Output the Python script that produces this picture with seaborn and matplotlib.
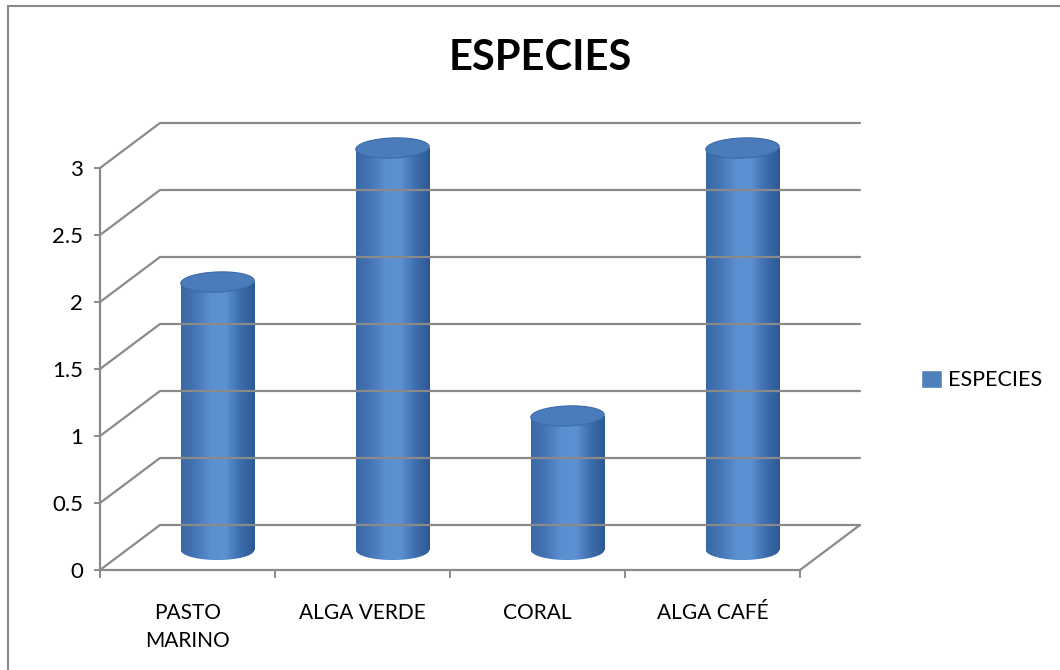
import numpy as np
import matplotlib
matplotlib.use("Agg")
import matplotlib.pyplot as plt
import matplotlib.transforms as mtransforms
from matplotlib.colors import LinearSegmentedColormap
from matplotlib.patches import Ellipse, Rectangle, Patch
from matplotlib.lines import Line2D
import seaborn as sns

# data
categorias = ["PASTO\nMARINO", "ALGA VERDE", "CORAL", "ALGA CAFÉ"]
especies = [2, 3, 1, 3]
serie = "ESPECIES"
yticks = [0, 0.5, 1, 1.5, 2, 2.5, 3]
ytick_labels = ["0", "0.5", "1", "1.5", "2", "2.5", "3"]

sns.set_style("white")
plt.rcParams["font.family"] = ["Lato", "DejaVu Sans"]
plt.rcParams["text.color"] = "black"

grid_col = "#8a8a8a"
fig = plt.figure(figsize=(10.6, 6.7), dpi=100)
ax = fig.add_axes([100 / 1060, 100 / 670, 700 / 1060, 402 / 670])

sns.barplot(x=categorias, y=especies, ax=ax, width=0.42, color="#4F81BD")
ax.set_xlim(-0.5, 3.5)
ax.set_ylim(0, 3)

# depth offsets (back wall and mid-depth for cylinders)
half = mtransforms.ScaledTranslation(0.30, 0.20, fig.dpi_scale_trans)
dx, dy = 60, 45

# perspective grid: diagonals + back wall lines
for v in yticks:
    x0, y0 = ax.transData.transform((-0.5, v))
    x1, y1 = ax.transData.transform((3.5, v))
    fig.add_artist(Line2D([x0, x0 + dx, x1 + dx], [y0, y0 + dy, y1 + dy],
                          transform=None, color=grid_col, lw=1.6, zorder=0.5))
x0, y0 = ax.transData.transform((3.5, 0))
fig.add_artist(Line2D([x0, x0 + dx], [y0, y0 + dy], transform=None,
                      color=grid_col, lw=1.6, zorder=0.5))

# cylinders
cyl = LinearSegmentedColormap.from_list(
    "cyl", ["#3A68A6", "#4676B6", "#5A8FD0", "#5C92D3", "#3F6EAE", "#2C5994"])
grad = np.linspace(0, 1, 200)[None, :]
eh = 0.15
tr = ax.transData + half
for p in list(ax.patches):
    x0 = p.get_x()
    w = p.get_width()
    h = p.get_height()
    cx = x0 + w / 2
    p.set_visible(False)
    body = Rectangle((x0, 0), w, h, transform=tr, facecolor="none",
                     edgecolor="none", clip_on=False)
    ax.add_patch(body)
    im = ax.imshow(grad, extent=(x0, x0 + w, 0, h), aspect="auto", cmap=cyl,
                   transform=tr, zorder=2, interpolation="bilinear")
    im.set_clip_path(body)
    im.set_clip_box(fig.bbox)
    bot = Ellipse((cx, 0), w, eh, transform=tr, facecolor="none",
                  edgecolor="none", clip_on=False)
    ax.add_patch(bot)
    im2 = ax.imshow(grad, extent=(x0, x0 + w, -eh / 2, eh / 2), aspect="auto",
                    cmap=cyl, transform=tr, zorder=2, interpolation="bilinear")
    im2.set_clip_path(bot)
    im2.set_clip_box(fig.bbox)
    top = Ellipse((cx, h), w, eh, angle=3, transform=tr, facecolor="#4A7BBB",
                  edgecolor="#3C6AA6", lw=0.8, zorder=3, clip_on=False)
    ax.add_patch(top)

ax.set_xlim(-0.5, 3.5)
ax.set_ylim(0, 3)

# axes styling
for s in ["top", "right"]:
    ax.spines[s].set_visible(False)
for s in ["left", "bottom"]:
    ax.spines[s].set_color(grid_col)
    ax.spines[s].set_linewidth(1.6)
ax.set_yticks(yticks)
ax.set_yticklabels(ytick_labels)
ax.set_xticks(range(len(categorias)))
ax.set_xticklabels(categorias, linespacing=1.45)
ax.set_xticks([-0.5, 0.5, 1.5, 2.5, 3.5], minor=True)
ax.tick_params(axis="y", length=4, width=1.4, color=grid_col, labelsize=16,
               pad=8, left=True, labelcolor="black")
ax.tick_params(axis="x", which="major", length=0, labelsize=15, pad=24,
               labelcolor="black")
ax.tick_params(axis="x", which="minor", length=6, width=1.4, color=grid_col,
               bottom=True)
ax.set_xlabel("")
ax.set_ylabel("")
ax.grid(False)

# title
fig.text(540 / 1060, 1 - 58 / 670, "ESPECIES", ha="center", va="center",
         fontsize=30, fontweight="bold", color="black")

# legend
leg = fig.legend(handles=[Patch(facecolor="#4F81BD")], labels=[serie],
                 loc="center left", bbox_to_anchor=(902 / 1060, 1 - 380 / 670),
                 frameon=False, handlelength=0.95, handleheight=0.95,
                 handletextpad=0.3, fontsize=15.5)
for t in leg.get_texts():
    t.set_color("black")

# chart border
fig.add_artist(Rectangle((8 / 1060, -0.1), 1.2, (670 - 6) / 670 + 0.1,
                         transform=fig.transFigure, fill=False,
                         edgecolor="#8a8a8a", lw=1.5))

fig.savefig("out.png", dpi=100)
